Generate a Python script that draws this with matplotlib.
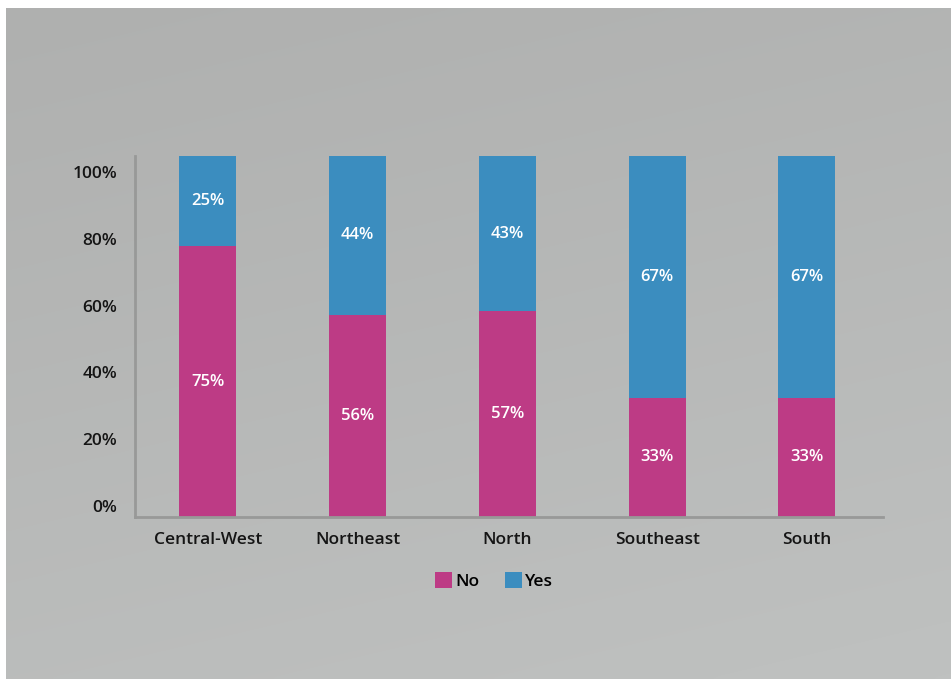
import numpy as np
import matplotlib
matplotlib.use("Agg")
import matplotlib.pyplot as plt
from matplotlib.colors import LinearSegmentedColormap
from matplotlib.patches import Patch

categories = ["Central-West", "Northeast", "North", "Southeast", "South"]
no_vals = [75, 56, 57, 33, 33]
yes_vals = [25, 44, 43, 67, 67]
series_names = ["No", "Yes"]
yticks = [0, 20, 40, 60, 80, 100]
ytick_labels = ["0%", "20%", "40%", "60%", "80%", "100%"]

PINK = "#BD3B85"
BLUE = "#3B8DBF"
SPINE = "#989998"

plt.rcParams["font.family"] = ["Open Sans", "DejaVu Sans"]

W, H = 951, 681
fig = plt.figure(figsize=(W / 100, H / 100), dpi=100)
fig.patch.set_facecolor("white")

# background gradient panel
bg = fig.add_axes([6 / W, (H - 679) / H, (W - 6) / W, (679 - 8) / H])
bg.set_axis_off()
yy, xx = np.mgrid[0:1:200j, 0:1:200j]
grad = 0.75 * yy + 0.25 * xx
cmap = LinearSegmentedColormap.from_list("g", ["#AFB0AF", "#BFC1C0"])
bg.imshow(grad, cmap=cmap, aspect="auto", extent=[0, 1, 1, 0], interpolation="bicubic")
bg.set_xlim(0, 1)
bg.set_ylim(1, 0)

ax = fig.add_axes([135 / W, 1 - 517 / H, 748 / W, (517 - 156) / H])
ax.patch.set_alpha(0)
x = np.arange(len(categories))
width = 0.38
ax.bar(x, no_vals, width, color=PINK, label=series_names[0], zorder=2)
ax.bar(x, yes_vals, width, bottom=no_vals, color=BLUE, label=series_names[1], zorder=2)

for xi, n, yv in zip(x, no_vals, yes_vals):
    ax.text(xi, n / 2, f"{n}%", ha="center", va="center", color="white",
            fontsize=12, fontweight="semibold")
    ax.text(xi, n + yv / 2, f"{yv}%", ha="center", va="center", color="white",
            fontsize=12, fontweight="semibold")

ax.set_xlim(-0.487, 4.508)
ax.set_ylim(0, 100)
ax.set_xticks(x)
ax.set_xticklabels(categories, fontsize=12.5, fontweight="semibold", color="#151515")
ax.tick_params(axis="x", length=0, pad=11)
ax.set_yticks([])
for s in ["top", "right"]:
    ax.spines[s].set_visible(False)
for s in ["left", "bottom"]:
    ax.spines[s].set_color(SPINE)
    ax.spines[s].set_linewidth(2)

# tick labels axis
ax2 = fig.add_axes(ax.get_position())
ax2.patch.set_alpha(0)
ax2.set_ylim(-3.3, 104.8)
ax2.set_yticks(yticks)
ax2.set_yticklabels(ytick_labels, fontsize=12.5, fontweight="semibold", color="#151515")
ax2.tick_params(axis="y", length=0, pad=13)
ax2.set_xticks([])
for s in ax2.spines.values():
    s.set_visible(False)

handles = [Patch(facecolor=PINK), Patch(facecolor=BLUE)]
fig.legend(handles, series_names, loc="center", bbox_to_anchor=(494 / W, 1 - 581 / H),
           ncol=2, frameon=False, handlelength=1.0, handleheight=1.0,
           handletextpad=0.15, columnspacing=1.5, prop={"size": 12.5, "weight": "semibold"})

fig.savefig("out.png", dpi=100, facecolor=fig.get_facecolor())
